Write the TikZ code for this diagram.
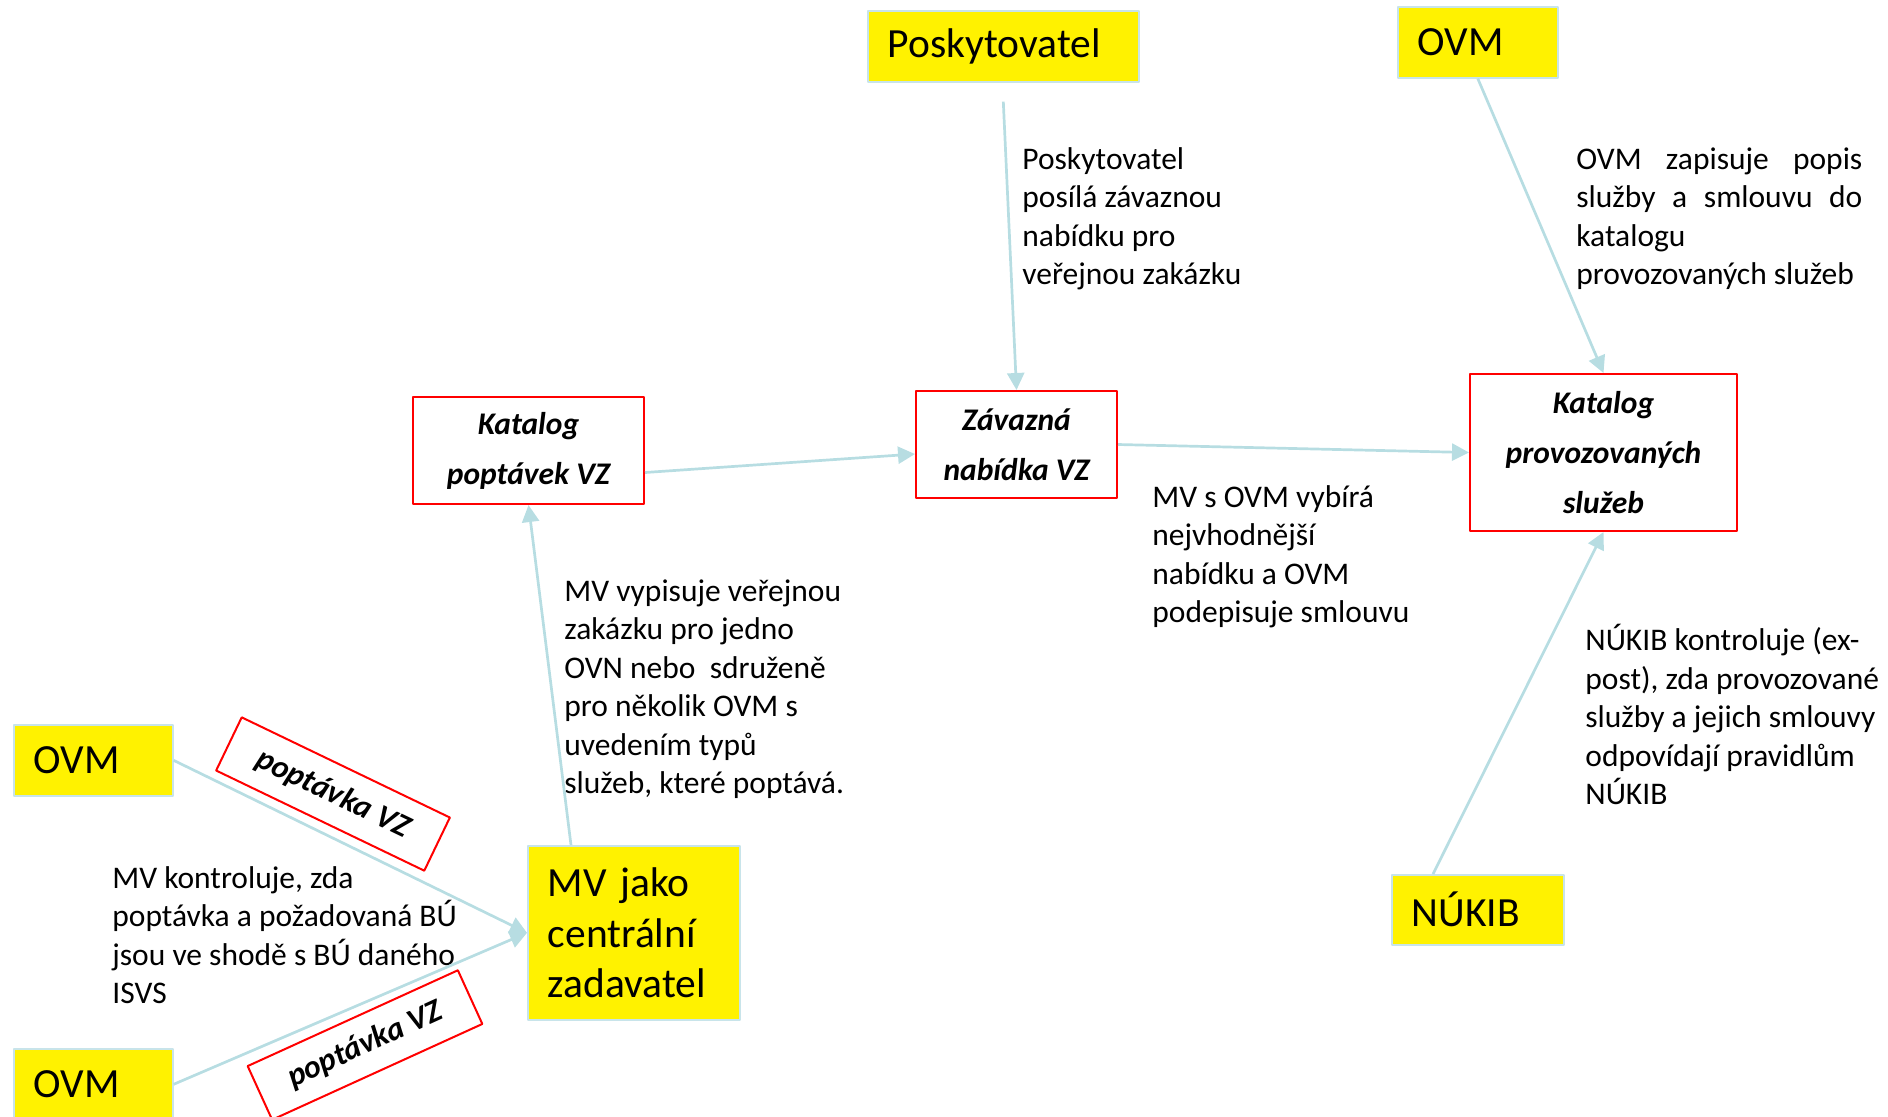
\documentclass[tikz,border=0pt]{standalone}
\usepackage{fontspec}
\setmainfont{Carlito}
\usetikzlibrary{arrows.meta}
\definecolor{arrowblue}{RGB}{183,221,226}
\definecolor{boxblue}{RGB}{200,228,234}
\begin{document}
\begin{tikzpicture}[x=0.5pt, y=-0.5pt, line join = round,
  yelbox/.style={draw=boxblue, line width=0.8pt, fill=yellow, anchor=north west,
    inner xsep=10pt, inner ysep=0pt, align=left, font=\fontsize{20.75}{25.3}\selectfont},
  redbox/.style={draw=red, line width=1pt, fill=white, anchor=north west, inner sep=0pt,
    align=center, font=\fontsize{15.75}{25}\selectfont\bfseries\itshape},
  poptbox/.style={draw=red, line width=1pt, fill=white, inner sep=0pt,
    minimum width=115.5pt, minimum height=29.5pt, font=\fontsize{16}{19}\selectfont\bfseries\itshape},
  note/.style={anchor=north west, inner sep=0pt, align=left, font=\fontsize{15.75}{19.25}\selectfont},
  link/.style={draw=arrowblue, line width=1.35pt, -{Triangle[length=8.5pt,width=8.5pt]}}]
\useasboundingbox (0,0) rectangle (1888,1116);

% yellow actors
\node[yelbox, text width=115.5pt, minimum height=35.5pt] (posk) at (867,10) {Poskytovatel};
\node[yelbox, text width=60pt, minimum height=35.5pt] (ovmR) at (1397,6) {OVM};
\node[yelbox, text width=59.5pt, minimum height=35.5pt] (ovmA) at (13,724) {OVM};
\node[yelbox, text width=59.5pt, minimum height=35.5pt] (ovmB) at (13,1048) {OVM};
\node[yelbox, text width=66pt, minimum height=35pt] (nukib) at (1391,874) {NÚKIB};
\node[yelbox, text width=86pt, minimum height=87pt] (mv) at (527,845) {MV jako\\centrální\\zadavatel};

% red catalogues
\node[redbox, minimum width=115.5pt, minimum height=53.5pt] (katpop) at (412,396) {Katalog\\poptávek VZ};
\node[redbox, minimum width=100.5pt, minimum height=53.5pt] (zav) at (915,390) {Závazná\\nabídka VZ};
\node[redbox, minimum width=133.5pt, minimum height=78.5pt] (katprov) at (1469,373) {Katalog\\provozovaných\\služeb};

\node[poptbox, rotate=-25.7] (popA) at (333,794) {poptávka VZ};
\node[poptbox, rotate=24.5] (popB) at (365,1045) {poptávka VZ};

% notes
\node[note] (tPosk) at (1022,147) {Poskytovatel\\posílá závaznou\\nabídku pro\\veřejnou zakázku};
\node[note] (tOvm) at (1576,147) {\makebox[143pt][s]{OVM zapisuje popis}\\\makebox[143pt][s]{služby a smlouvu do}\\katalogu\\provozovaných služeb};
\node[note] (tVyber) at (1152,485) {MV s OVM vybírá\\nejvhodnější\\nabídku a OVM\\podepisuje smlouvu};
\node[note] (tNukib) at (1585,624) {NÚKIB kontroluje (ex-\\post), zda provozované\\služby a jejich smlouvy\\odpovídají pravidlům\\NÚKIB};
\node[note] (tVypis) at (564,579) {MV vypisuje veřejnou\\zakázku pro jedno\\OVN nebo\ \ sdruženě\\pro několik OVM s\\uvedením typů\\služeb, které poptává.};
\node[note] (tKontr) at (112,866) {MV kontroluje, zda\\poptávka a požadovaná BÚ\\jsou ve shodě s BÚ daného\\ISVS};

% connectors
\draw[link] ([yshift=-9.5pt]posk.south) -- (zav.north);
\draw[link] (ovmR.south) -- (katprov.north);
\draw[link] ([yshift=-11pt]katpop.east) -- ([yshift=-4.75pt]zav.west);
\draw[link] (zav.east) -- (katprov.west);
\draw[link] ([xshift=22pt]mv.north west) -- (katpop.south);
\draw[link] ([xshift=21pt]nukib.north west) -- (katprov.south);
\draw[link] (ovmA.east) -- (mv.west);
\draw[link] (ovmB.east) -- (mv.west);
\end{tikzpicture}
\end{document}
